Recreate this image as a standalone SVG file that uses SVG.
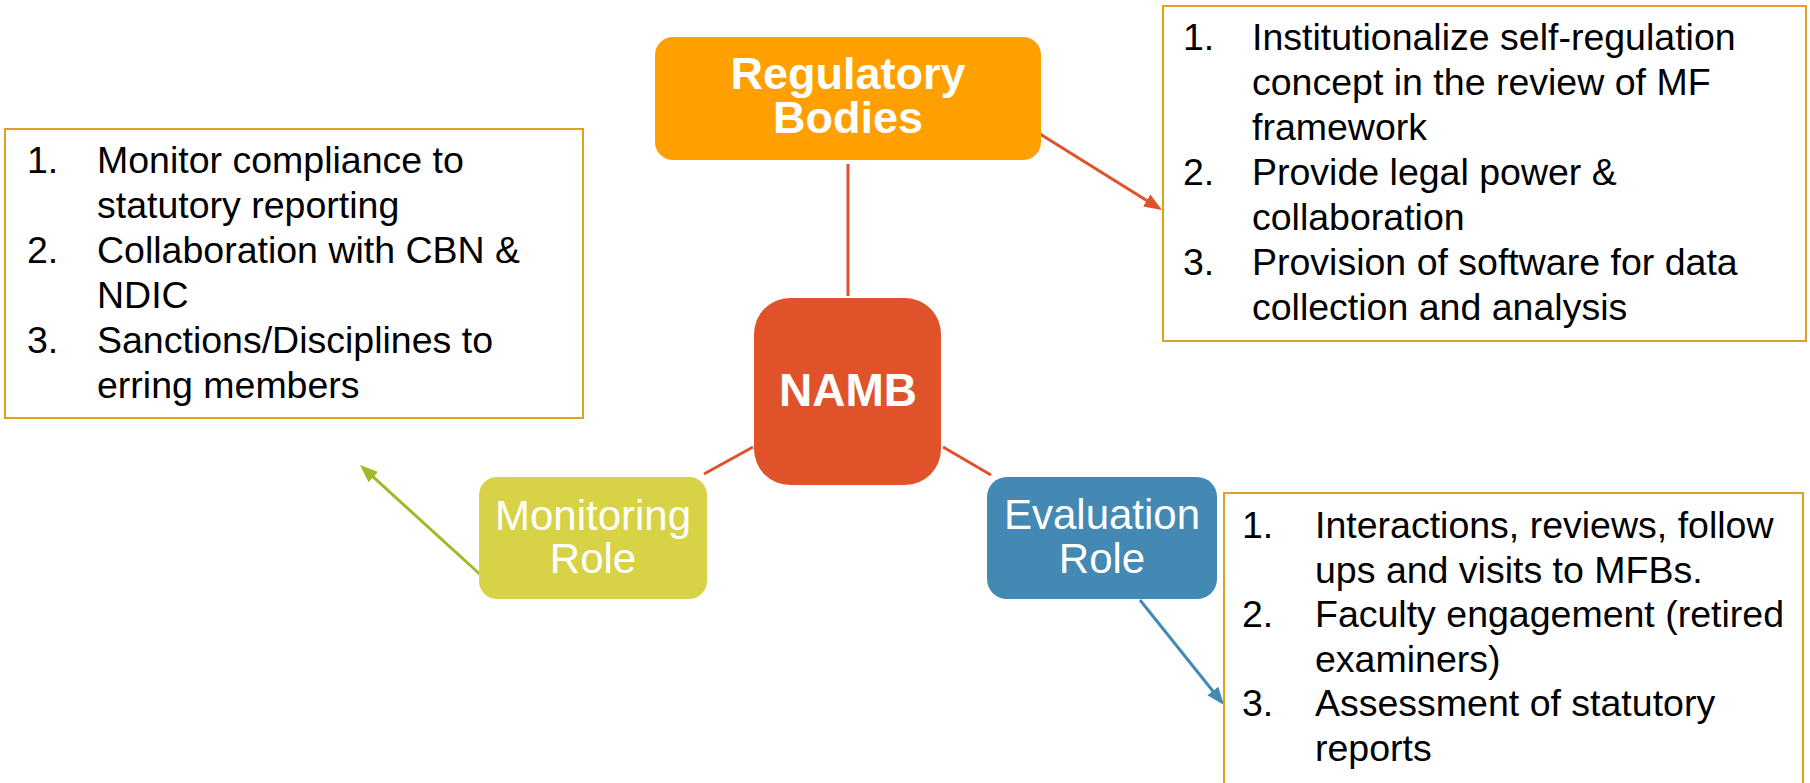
<svg xmlns="http://www.w3.org/2000/svg" width="1810" height="783" viewBox="0 0 1810 783">
  <style>
    .title { font-family: "Liberation Sans", Arial, sans-serif; fill: #FFFFFF; text-anchor: middle; }
    .bold { font-weight: bold; font-size: 45px; }
    .role { font-size: 42px; }
    .list { font-family: "Liberation Sans", Arial, sans-serif; font-size: 37.5px; fill: #000000; }
    .panel { fill: #FFFFFF; stroke: #E0A21E; stroke-width: 2; }
    .link { stroke-width: 3; fill: none; }
  </style>
  <defs>
    <marker id="head-red" markerUnits="userSpaceOnUse" markerWidth="18" markerHeight="14" refX="8" refY="7" orient="auto">
      <path d="M0,0 L18,7 L0,14 z" fill="#E0532A"/>
    </marker>
    <marker id="head-blue" markerUnits="userSpaceOnUse" markerWidth="18" markerHeight="14" refX="8" refY="7" orient="auto">
      <path d="M0,0 L18,7 L0,14 z" fill="#4389B4"/>
    </marker>
    <marker id="head-green" markerUnits="userSpaceOnUse" markerWidth="18" markerHeight="14" refX="8" refY="7" orient="auto">
      <path d="M0,0 L18,7 L0,14 z" fill="#A3B829"/>
    </marker>
  </defs>

  <!-- connectors -->
  <g id="connectors">
    <line class="link" x1="848" y1="164" x2="848" y2="296" stroke="#E0532A"/>
    <line class="link" x1="753" y1="447" x2="704" y2="474" stroke="#E0532A"/>
    <line class="link" x1="943" y1="447" x2="991" y2="475" stroke="#E0532A"/>
    <line class="link" x1="1032" y1="129" x2="1153.5" y2="204.7" stroke="#E0532A" stroke-width="2.5" marker-end="url(#head-red)"/>
    <line class="link" x1="1140" y1="600" x2="1217.8" y2="697.2" stroke="#4389B4" marker-end="url(#head-blue)"/>
    <line class="link" x1="483" y1="577" x2="367.4" y2="471.7" stroke="#A3B829" marker-end="url(#head-green)"/>
  </g>

  <!-- central node -->
  <g id="namb">
    <rect x="754" y="298" width="187" height="187" rx="36" ry="36" fill="#E0532A"/>
    <text class="title bold" x="848" y="406" style="font-size:46px">NAMB</text>
  </g>

  <g id="regulatory-bodies">
    <rect x="655" y="37" width="386" height="123" rx="18" ry="18" fill="#FFA000"/>
    <text class="title bold"><tspan x="848" y="89">Regulatory</tspan><tspan x="848" y="133">Bodies</tspan></text>
  </g>

  <g id="monitoring-role">
    <rect x="479" y="477" width="228" height="122" rx="18" ry="18" fill="#D8D346"/>
    <text class="title role"><tspan x="593" y="530">Monitoring</tspan><tspan x="593" y="573">Role</tspan></text>
  </g>

  <g id="evaluation-role">
    <rect x="987" y="477" width="230" height="122" rx="20" ry="20" fill="#4389B4"/>
    <text class="title role"><tspan x="1102" y="529">Evaluation</tspan><tspan x="1102" y="573">Role</tspan></text>
  </g>

  <!-- regulatory bodies tasks -->
  <g id="regulatory-tasks">
    <rect class="panel" x="1163" y="6" width="643" height="335"/>
    <text class="list">
      <tspan x="1183" y="50">1.</tspan><tspan x="1252" y="50">Institutionalize self-regulation</tspan>
      <tspan x="1252" y="95">concept in the review of MF</tspan>
      <tspan x="1252" y="140">framework</tspan>
      <tspan x="1183" y="185">2.</tspan><tspan x="1252" y="185">Provide legal power &amp;</tspan>
      <tspan x="1252" y="230">collaboration</tspan>
      <tspan x="1183" y="275">3.</tspan><tspan x="1252" y="275">Provision of software for data</tspan>
      <tspan x="1252" y="320">collection and analysis</tspan>
    </text>
  </g>

  <!-- monitoring tasks -->
  <g id="monitoring-tasks">
    <rect class="panel" x="5" y="129" width="578" height="289"/>
    <text class="list">
      <tspan x="27" y="173">1.</tspan><tspan x="97" y="173">Monitor compliance to</tspan>
      <tspan x="97" y="218">statutory reporting</tspan>
      <tspan x="27" y="263">2.</tspan><tspan x="97" y="263">Collaboration with CBN &amp;</tspan>
      <tspan x="97" y="308">NDIC</tspan>
      <tspan x="27" y="353">3.</tspan><tspan x="97" y="353">Sanctions/Disciplines to</tspan>
      <tspan x="97" y="398">erring members</tspan>
    </text>
  </g>

  <!-- evaluation tasks -->
  <g id="evaluation-tasks">
    <rect class="panel" x="1224" y="493" width="579" height="320"/>
    <text class="list">
      <tspan x="1242" y="538">1.</tspan><tspan x="1315" y="538">Interactions, reviews, follow</tspan>
      <tspan x="1315" y="582.5">ups and visits to MFBs.</tspan>
      <tspan x="1242" y="627">2.</tspan><tspan x="1315" y="627">Faculty engagement (retired</tspan>
      <tspan x="1315" y="671.5">examiners)</tspan>
      <tspan x="1242" y="716">3.</tspan><tspan x="1315" y="716">Assessment of statutory</tspan>
      <tspan x="1315" y="760.5">reports</tspan>
    </text>
  </g>
</svg>
